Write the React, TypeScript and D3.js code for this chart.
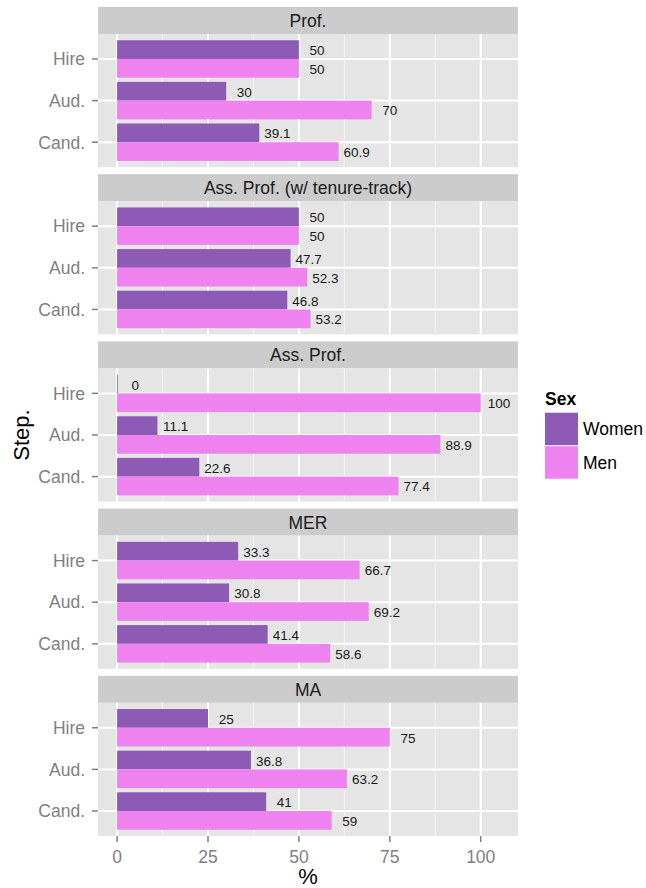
import React from "react";
import * as d3 from "d3";

// facets, top to bottom
const panels = ["Prof.", "Ass. Prof. (w/ tenure-track)", "Ass. Prof.", "MER", "MA"];
const steps = ["Hire", "Aud.", "Cand."];
const sexes = ["Women", "Men"];
// values per panel, in the order of steps
const women = [
  [50, 30, 39.1],
  [50, 47.7, 46.8],
  [0, 11.1, 22.6],
  [33.3, 30.8, 41.4],
  [25, 36.8, 41],
];
const men = [
  [50, 70, 60.9],
  [50, 52.3, 53.2],
  [100, 88.9, 77.4],
  [66.7, 69.2, 58.6],
  [75, 63.2, 59],
];
const xTicks = [0, 25, 50, 75, 100];

const W = 646;
const H = 888;
const left = 98;
const right = 518;
const top = 7;
const bottom = 836;
const stripH = 27;
const gap = 7;
const colors = ["#8d5ab5", "#ee82ee"];
const font = "'Liberation Sans', Arial, Helvetica, sans-serif";

const App = () => {
  const blockH = (bottom - top - gap * (panels.length - 1)) / panels.length;
  const panelH = blockH - stripH;

  const x = d3.scaleLinear().domain([-5.25, 110.25]).range([left, right]);
  // discrete y with ggplot-like expansion of 0.6 units on each side
  const yIdx = d3.scaleLinear().domain([-0.6, steps.length - 1 + 0.6]).range([0, panelH]);
  const unit = yIdx(1) - yIdx(0);
  const inner = d3.scaleBand().domain(sexes).range([-0.45 * unit, 0.45 * unit]);

  const minor = [-12.5, 12.5, 37.5, 62.5, 87.5, 112.5].filter((v) => v > -5.25 && v < 110.25);

  return (
    <div style={{ position: "fixed", left: 0, top: 0 }}>
      <svg width={W} height={H} style={{ display: "block", background: "white", fontFamily: font }}>
        {panels.map((name, p) => {
          const y0 = top + p * (blockH + gap);
          const py = y0 + stripH;
          const vals = [women[p], men[p]];
          return (
            <g key={name}>
              <rect x={left} y={y0} width={right - left} height={stripH} fill="#cccccc" />
              <text x={(left + right) / 2} y={y0 + stripH / 2 + 6.5} textAnchor="middle" fontSize={17.5} fill="#1a1a1a">
                {name}
              </text>
              <g transform={`translate(0,${py})`}>
                <rect x={left} y={0} width={right - left} height={panelH} fill="#e5e5e5" />
                {minor.map((v) => (
                  <line key={"m" + v} x1={x(v)} x2={x(v)} y1={0} y2={panelH} stroke="#f2f2f2" strokeWidth={1} />
                ))}
                {xTicks.map((v) => (
                  <line key={"g" + v} x1={x(v)} x2={x(v)} y1={0} y2={panelH} stroke="white" strokeWidth={2} />
                ))}
                {steps.map((s, i) => (
                  <g key={s}>
                    <line x1={left} x2={right} y1={yIdx(i)} y2={yIdx(i)} stroke="white" strokeWidth={2} />
                    <line x1={left - 6} x2={left} y1={yIdx(i)} y2={yIdx(i)} stroke="#7f7f7f" strokeWidth={1.5} />
                    <text x={left - 13} y={yIdx(i) + 6.3} textAnchor="end" fontSize={17.5} fill="#7f7f7f">
                      {s}
                    </text>
                  </g>
                ))}
                {sexes.map((sx, k) =>
                  vals[k].map((v, i) => {
                    const by = yIdx(i) + (inner(sx) as number);
                    return (
                      <g key={sx + i}>
                        <rect
                          x={x(0)}
                          y={by}
                          width={Math.max(x(v) - x(0), 0.8)}
                          height={inner.bandwidth()}
                          fill={colors[k]}
                        />
                        <text
                          x={x(v + 5)}
                          y={by + inner.bandwidth() / 2 + 5.5}
                          textAnchor="middle"
                          fontSize={13.5}
                          fill="#1a1a1a"
                        >
                          {String(v)}
                        </text>
                      </g>
                    );
                  })
                )}
              </g>
            </g>
          );
        })}
        {/* x axis */}
        {xTicks.map((v) => (
          <g key={"t" + v}>
            <line x1={x(v)} x2={x(v)} y1={bottom} y2={bottom + 6} stroke="#7f7f7f" strokeWidth={1.5} />
            <text x={x(v)} y={bottom + 27} textAnchor="middle" fontSize={17.5} fill="#7f7f7f">
              {v}
            </text>
          </g>
        ))}
        <text x={(left + right) / 2} y={884} textAnchor="middle" fontSize={22} fill="black">
          %
        </text>
        <text transform={`translate(29,435) rotate(-90)`} textAnchor="middle" fontSize={22} fill="black">
          Step.
        </text>
        {/* legend */}
        <text x={545} y={405} fontSize={17.5} fontWeight="bold" fill="black">
          Sex
        </text>
        {sexes.map((sx, k) => (
          <g key={"l" + sx}>
            <rect x={545} y={412.7 + k * 33.5} width={33} height={32.5} fill={colors[k]} />
            <text x={583} y={435 + k * 34} fontSize={17.5} fill="black">
              {sx}
            </text>
          </g>
        ))}
      </svg>
    </div>
  );
};

export default App;
